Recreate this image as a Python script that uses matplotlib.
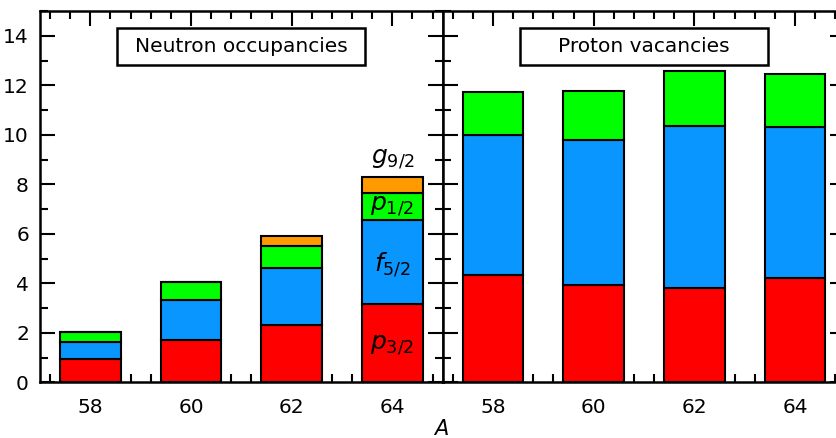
import matplotlib.pyplot as plt
import numpy as np
from matplotlib.patches import Rectangle
from matplotlib.ticker import MultipleLocator

A = np.array([58, 60, 62, 64])

# Neutron occupancies (segment heights)
n_p32 = [0.93, 1.72, 2.31, 3.15]
n_f52 = [0.69, 1.59, 2.29, 3.40]
n_p12 = [0.42, 0.75, 0.90, 1.08]
n_g92 = [0.00, 0.00, 0.42, 0.67]

# Proton vacancies
p_p32 = [4.35, 3.93, 3.81, 4.20]
p_f52 = [5.63, 5.86, 6.53, 6.11]
p_p12 = [1.74, 1.97, 2.22, 2.13]

labels = ['$p_{3/2}$', '$f_{5/2}$', '$p_{1/2}$', '$g_{9/2}$']
colors = ['#ff0000', '#0a96ff', '#00ff00', '#ff9a00']

plt.rcParams['font.family'] = 'DejaVu Sans'
plt.rcParams['font.size'] = 14.5
plt.rcParams['mathtext.fontset'] = 'dejavusans'

fig = plt.figure(figsize=(8.37, 4.38), dpi=100)
ax1 = fig.add_axes([0.0478, 0.1272, 0.4811, 0.8476])
ax2 = fig.add_axes([0.5289, 0.1272, 0.4811, 0.8476])


def stack(ax, segs, cols):
    bottom = np.zeros(len(A))
    for s, c in zip(segs, cols):
        ax.bar(A, s, width=1.2, bottom=bottom, color=c, edgecolor='black', linewidth=1.5)
        bottom = bottom + np.array(s)


stack(ax1, [n_p32, n_f52, n_p12, n_g92], colors)
stack(ax2, [p_p32, p_f52, p_p12], colors[:3])

# level labels on the A=64 neutron bar
b = np.cumsum([n_p32[3], n_f52[3], n_p12[3], n_g92[3]])
ax1.text(64, b[0] / 2 - 0.05, labels[0], ha='center', va='center', fontsize=18)
ax1.text(64, (b[0] + b[1]) / 2 - 0.1, labels[1], ha='center', va='center', fontsize=18)
ax1.text(64, (b[1] + b[2]) / 2 + 0.05, labels[2], ha='center', va='center', fontsize=18)
ax1.text(64, b[3] + 0.25, labels[3], ha='center', va='bottom', fontsize=18)

for ax, title in [(ax1, 'Neutron occupancies'), (ax2, 'Proton vacancies')]:
    ax.set_xlim(57, 65)
    ax.set_ylim(0, 15)
    ax.set_axisbelow(True)
    ax.set_xticks(A)
    ax.xaxis.set_minor_locator(MultipleLocator(0.4))
    ax.yaxis.set_major_locator(MultipleLocator(2))
    ax.yaxis.set_minor_locator(MultipleLocator(1))
    ax.tick_params(which='both', direction='in', top=True, right=True, width=1.5)
    ax.tick_params(which='major', length=11)
    ax.tick_params(axis='x', which='major', pad=11)
    ax.tick_params(axis='y', which='major', pad=8)
    ax.tick_params(which='minor', length=6)
    for sp in ax.spines.values():
        sp.set_linewidth(1.8)
    ax.add_patch(Rectangle((0.192, 0.855), 0.616, 0.099, transform=ax.transAxes,
                           fill=False, edgecolor='black', linewidth=1.8))
    ax.text(0.5, 0.904, title, transform=ax.transAxes, ha='center', va='center')

ax2.tick_params(labelleft=False)
fig.text(0.527, 0.02, '$A$', ha='center', va='center', fontsize=15)

fig.savefig('out.png', dpi=100)
